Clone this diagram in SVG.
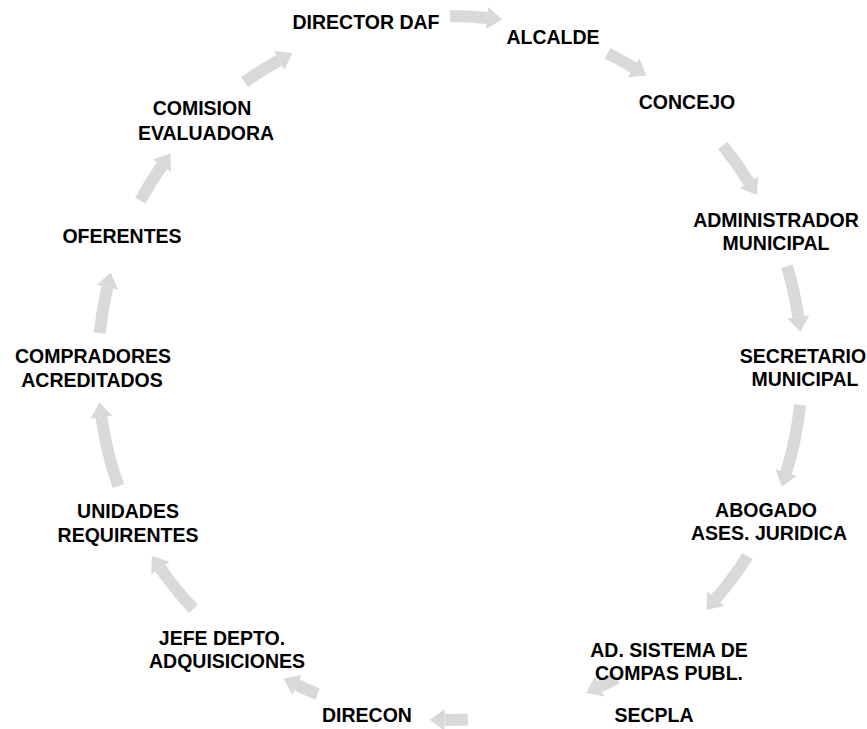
<svg xmlns="http://www.w3.org/2000/svg" width="867" height="729" viewBox="0 0 867 729">
<defs>
<style>
text{font-family:"Liberation Sans",Arial,sans-serif;font-weight:bold;font-size:19.5px;fill:#000;text-anchor:middle}
.arr{fill:none;stroke:#d9d9d9;stroke-width:12;marker-end:url(#head)}
</style>
<marker id="head" markerUnits="userSpaceOnUse" markerWidth="16" markerHeight="24" refX="0" refY="12" orient="auto" overflow="visible">
<path d="M0,1 L15,12 L0,23 Z" fill="#d9d9d9"/>
</marker>
</defs>
<rect width="867" height="729" fill="#fff"/>
<g id="connectors">
<path class="arr" d="M450,16 A352,352 0 0 1 487.16,17.97" transform="rotate(0 450 368)"/>
<path class="arr" d="M450,16 A352,352 0 0 1 479.82,17.27" transform="rotate(26.6 450 368)"/>
<path class="arr" d="M450,16 A352,352 0 0 1 495.09,18.90" transform="rotate(50.8 450 368)"/>
<path class="arr" d="M450,16 A352,352 0 0 1 501.79,19.83" transform="rotate(73.2 450 368)"/>
<path class="arr" d="M450,16 A352,352 0 0 1 518.74,22.78" transform="rotate(96 450 368)"/>
<path class="arr" d="M450,16 A352,352 0 0 1 503.00,20.01" transform="rotate(122.3 450 368)"/>
<path class="arr" d="M450,16 A352,352 0 0 1 469.40,16.54" transform="rotate(151.7 450 368)"/>
<path class="arr" d="M450,16 A352,352 0 0 1 473.08,16.76" transform="rotate(177.1 450 368)"/>
<path class="arr" d="M450,16 A352,352 0 0 1 472.47,16.72" transform="rotate(202.1 450 368)"/>
<path class="arr" d="M450,16 A352,352 0 0 1 502.40,19.92" transform="rotate(226.8 450 368)"/>
<path class="arr" d="M450,16 A352,352 0 0 1 520.54,23.14" transform="rotate(250.4 450 368)"/>
<path class="arr" d="M450,16 A352,352 0 0 1 496.31,19.06" transform="rotate(275.7 450 368)"/>
<path class="arr" d="M450,16 A352,352 0 0 1 490.83,18.38" transform="rotate(298.4 450 368)"/>
<path class="arr" d="M450,16 A352,352 0 0 1 490.83,18.38" transform="rotate(324.3 450 368)"/>
</g>
<g id="n-director"><text x="366" y="29">DIRECTOR DAF</text></g>
<g id="n-alcalde"><text x="553" y="44">ALCALDE</text></g>
<g id="n-concejo"><text x="687" y="109">CONCEJO</text></g>
<g id="n-administrador"><text x="776" y="227">ADMINISTRADOR</text><text x="776" y="250">MUNICIPAL</text></g>
<g id="n-secretario"><text x="803" y="363">SECRETARIO</text><text x="805" y="386">MUNICIPAL</text></g>
<g id="n-abogado"><text x="766" y="517">ABOGADO</text><text x="769" y="540">ASES. JURIDICA</text></g>
<g id="n-adsistema"><text x="669" y="657">AD. SISTEMA DE</text><text x="669" y="680">COMPAS PUBL.</text></g>
<g id="n-secpla"><text x="654" y="722">SECPLA</text></g>
<g id="n-direcon"><text x="367" y="722">DIRECON</text></g>
<g id="n-jefe"><text x="222" y="645">JEFE DEPTO.</text><text x="227" y="668">ADQUISICIONES</text></g>
<g id="n-unidades"><text x="128" y="518">UNIDADES</text><text x="128" y="542">REQUIRENTES</text></g>
<g id="n-compradores"><text x="93" y="363">COMPRADORES</text><text x="92" y="387">ACREDITADOS</text></g>
<g id="n-oferentes"><text x="122" y="243">OFERENTES</text></g>
<g id="n-comision"><text x="202" y="115">COMISION</text><text x="206" y="140">EVALUADORA</text></g>
</svg>
